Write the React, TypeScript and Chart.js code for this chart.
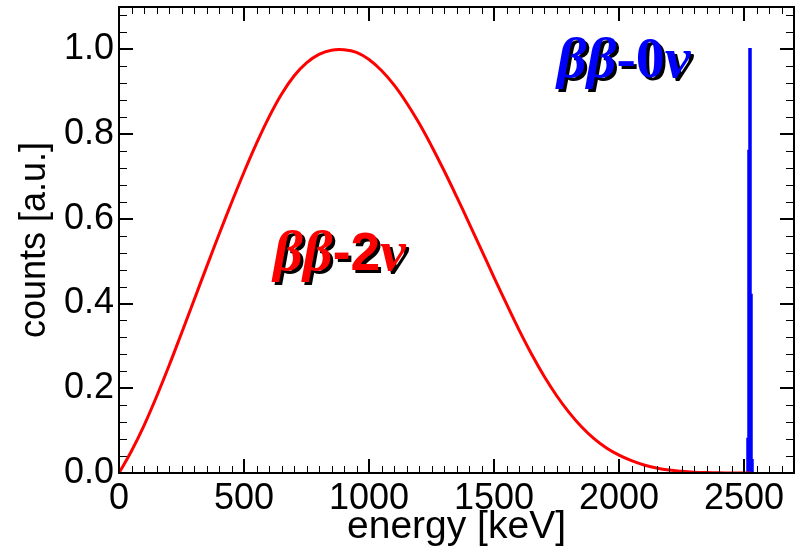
import { useEffect, useRef } from "react";
import { Chart, registerables } from "chart.js";

Chart.register(...registerables);

// ββ-2ν summed-electron energy spectrum (keV, normalised counts)
const energy2nu = [0, 50, 100, 150, 200, 250, 300, 350, 400, 450, 500, 550, 600, 650, 700, 750, 800, 850, 900, 950, 1000, 1050, 1100, 1150, 1200, 1250, 1300, 1350, 1400, 1450, 1500, 1550, 1600, 1650, 1700, 1750, 1800, 1850, 1900, 1950, 2000, 2050, 2100, 2150, 2200, 2250, 2300, 2350, 2400, 2450, 2527];
const counts2nu = [0, 0.052, 0.112, 0.18, 0.253, 0.33, 0.408, 0.486, 0.563, 0.638, 0.71, 0.778, 0.84, 0.894, 0.937, 0.968, 0.988, 0.998, 0.999, 0.993, 0.976, 0.95, 0.916, 0.874, 0.826, 0.772, 0.714, 0.653, 0.59, 0.526, 0.462, 0.399, 0.338, 0.281, 0.229, 0.183, 0.143, 0.109, 0.081, 0.059, 0.042, 0.029, 0.019, 0.012, 0.007, 0.004, 0.002, 0.001, 0.0004, 0.0001, 0];

// ββ-0ν peak at the Q-value (histogram bins)
const energy0nu = [2508, 2512, 2516, 2520, 2524, 2528, 2532, 2536, 2540];
const counts0nu = [0, 0, 0.08, 0.76, 1.0, 0.42, 0.03, 0, 0];

const xTickValues = [0, 500, 1000, 1500, 2000, 2500];
const yTickValues = [0, 0.2, 0.4, 0.6, 0.8, 1.0];

const X_MIN = 0, X_MAX = 2700, X_MINOR = 50;
const Y_MIN = 0, Y_MAX = 1.1, Y_MINOR = 0.04;

const LABEL_2NU = { greek: "ββ", mid: "-2", tail: "ν", x: 617, y: 0.48, color: "#ff0000", midSerif: false };
const LABEL_0NU = { greek: "ββ", mid: "-0", tail: "ν", x: 1752, y: 0.935, color: "#0000ff", midSerif: true };

const SANS = "'Liberation Sans', Arial, Helvetica, sans-serif";
const SERIF = "'Liberation Serif', 'Times New Roman', serif";

const frameTicks = {
  id: "frameTicks",
  afterDatasetsDraw(chart: any) {
    const { ctx, chartArea, scales } = chart;
    const { left, right, top, bottom } = chartArea;
    const xs = scales.x, ys = scales.y;
    ctx.save();
    ctx.strokeStyle = "#000";
    ctx.lineWidth = 1;
    ctx.beginPath();
    const nx = Math.round((X_MAX - X_MIN) / X_MINOR);
    for (let i = 1; i < nx; i++) {
      const v = X_MIN + i * X_MINOR;
      if (xTickValues.some((t) => Math.abs(t - v) < 1e-6)) continue;
      const px = Math.round(xs.getPixelForValue(v)) + 0.5;
      ctx.moveTo(px, bottom); ctx.lineTo(px, bottom - 7);
      ctx.moveTo(px, top); ctx.lineTo(px, top + 7);
    }
    const ny = Math.round((Y_MAX - Y_MIN) / Y_MINOR);
    for (let i = 1; i <= ny; i++) {
      const v = Y_MIN + i * Y_MINOR;
      if (v > Y_MAX) break;
      if (yTickValues.some((t) => Math.abs(t - v) < 1e-6)) continue;
      const py = Math.round(ys.getPixelForValue(v)) + 0.5;
      ctx.moveTo(left, py); ctx.lineTo(left + 8, py);
      ctx.moveTo(right, py); ctx.lineTo(right - 8, py);
    }
    ctx.stroke();
    ctx.lineWidth = 2;
    ctx.beginPath();
    for (const v of xTickValues) {
      const px = Math.round(xs.getPixelForValue(v));
      ctx.moveTo(px, bottom); ctx.lineTo(px, bottom - 14);
      ctx.moveTo(px, top); ctx.lineTo(px, top + 14);
    }
    for (const v of yTickValues) {
      const py = Math.round(ys.getPixelForValue(v));
      ctx.moveTo(left, py); ctx.lineTo(left + 14, py);
      ctx.moveTo(right, py); ctx.lineTo(right - 14, py);
    }
    ctx.stroke();
    ctx.strokeRect(left, top, right - left, bottom - top);
    ctx.restore();
  },
};

const peakLabels = {
  id: "peakLabels",
  afterDatasetsDraw(chart: any) {
    const { ctx, scales } = chart;
    ctx.save();
    ctx.textAlign = "left";
    ctx.textBaseline = "alphabetic";
    const size = 58;
    const greekFont = `bold italic ${size}px ${SERIF}`;
    for (const l of [LABEL_2NU, LABEL_0NU]) {
      const px0 = scales.x.getPixelForValue(l.x);
      const py = scales.y.getPixelForValue(l.y);
      const midFont = l.midSerif ? `bold ${size}px ${SERIF}` : `bold ${size * 0.92}px ${SANS}`;
      const parts = [
        { t: l.greek, f: greekFont },
        { t: l.mid, f: midFont },
        { t: l.tail, f: greekFont },
      ];
      for (const pass of [0, 1]) {
        let px = px0;
        for (const p of parts) {
          ctx.font = p.f;
          ctx.fillStyle = pass === 0 ? "#000" : l.color;
          const off = pass === 0 ? 3 : 0;
          ctx.fillText(p.t, px + off, py + off);
          px += ctx.measureText(p.t).width;
        }
      }
    }
    ctx.restore();
  },
};

export default function App() {
  const canvasRef = useRef<HTMLCanvasElement | null>(null);

  useEffect(() => {
    document.body.style.margin = "0";
    const canvas = canvasRef.current;
    if (!canvas) return;
    const chart = new Chart(canvas, {
      type: "line",
      data: {
        datasets: [
          {
            label: "ββ-2ν",
            data: energy2nu.map((e, i) => ({ x: e, y: counts2nu[i] })),
            borderColor: "#ff0000",
            borderWidth: 3,
            pointRadius: 0,
            tension: 0.4,
            fill: false,
          },
          {
            label: "ββ-0ν",
            data: energy0nu.map((e, i) => ({ x: e, y: counts0nu[i] })),
            borderColor: "#0000ff",
            backgroundColor: "#0000ff",
            borderWidth: 2.5,
            pointRadius: 0,
            stepped: "middle",
            fill: "origin",
          },
        ],
      },
      options: {
        animation: false,
        responsive: false,
        maintainAspectRatio: false,
        layout: { padding: { left: 0, top: 7, right: 9, bottom: 0 } },
        plugins: { legend: { display: false }, tooltip: { enabled: false } },
        scales: {
          x: {
            type: "linear",
            min: X_MIN,
            max: X_MAX,
            grid: { display: false, drawTicks: false },
            border: { display: false },
            afterFit: (s: any) => {
              s.height = 78;
              s.paddingLeft = 0;
              s.paddingRight = 0;
            },
            afterBuildTicks: (s: any) => { s.ticks = xTickValues.map((v) => ({ value: v })); },
            ticks: {
              color: "#000",
              font: { family: SANS, size: 36 },
              padding: 4,
              maxRotation: 0,
              autoSkip: false,
              callback: (v: any) => String(v),
            },
            title: {
              display: true,
              text: "energy [keV]",
              color: "#000",
              font: { family: SANS, size: 39 },
              padding: { top: 0, bottom: 0 },
            },
          },
          y: {
            type: "linear",
            min: Y_MIN,
            max: Y_MAX,
            grid: { display: false, drawTicks: false },
            border: { display: false },
            afterFit: (s: any) => {
              s.width = 119;
              s.paddingTop = 0;
              s.paddingBottom = 0;
            },
            afterBuildTicks: (s: any) => { s.ticks = yTickValues.map((v) => ({ value: v })); },
            ticks: {
              color: "#000",
              font: { family: SANS, size: 36 },
              padding: 5,
              autoSkip: false,
              callback: (v: any) => Number(v).toFixed(1),
            },
            title: {
              display: true,
              text: "counts [a.u.]",
              color: "#000",
              font: { family: SANS, size: 36 },
              padding: { top: 13, bottom: 13 },
            },
          },
        },
      },
      plugins: [frameTicks, peakLabels],
    });
    return () => chart.destroy();
  }, []);

  return (
    <div style={{ position: "absolute", left: 0, top: 0, width: 803, height: 551 }}>
      <canvas ref={canvasRef} width={803} height={551} style={{ width: 803, height: 551 }} />
    </div>
  );
}
